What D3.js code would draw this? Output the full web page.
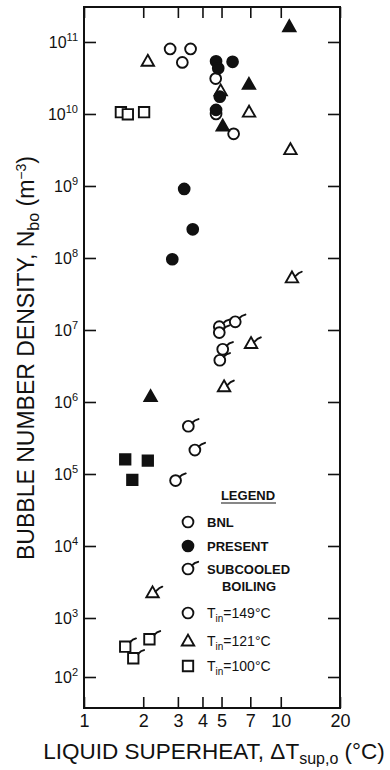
<!DOCTYPE html>
<html>
<head>
<meta charset="utf-8">
<script src="https://cdn.jsdelivr.net/npm/d3@7"></script>
<style>
  body { margin: 0; background: #fff; }
  text { font-family: "Liberation Sans", Arial, Helvetica, sans-serif; fill: #111; }
</style>
</head>
<body>
<svg id="chart" width="390" height="770"></svg>
<script>
// values: [superheat (C), bubble number density (m^-3)]
var bnlCircle = [[2.74, 8.0e10], [3.48, 8.0e10], [3.16, 5.2e10], [4.67, 3.1e10], [4.69, 1.0e10], [5.76, 5.3e9]];
var bnlTriangle = [[2.11, 5.4e10], [4.95, 2.1e10], [6.9, 1.06e10], [11.2, 3.2e9]];
var bnlSquare = [[1.54, 1.06e10], [1.67, 9.9e9], [2.02, 1.06e10]];

var presentCircle = [[4.69, 5.4e10], [4.81, 4.3e10], [5.69, 5.3e10], [4.9, 1.74e10], [4.69, 1.14e10], [3.23, 9.1e8], [3.57, 2.5e8], [2.81, 9.6e7]];
var presentTriangle = [[11.05, 1.63e11], [6.89, 2.58e10], [5.07, 6.8e9], [2.18, 1.19e6]];
var presentSquare = [[1.62, 1.6e5], [2.11, 1.53e5], [1.76, 8.3e4]];

var subCircle = [[5.87, 1.3e7], [4.87, 1.11e7], [4.87, 9.2e6], [5.07, 5.4e6], [4.9, 3.8e6], [3.39, 4.6e5], [3.66, 2.15e5], [2.92, 8.1e4]];
var subTriangle = [[11.4, 5.3e7], [7.06, 6.5e6], [5.15, 1.63e6], [2.23, 2.24e3]];
var subSquare = [[1.62, 327], [1.78, 208], [2.15, 436]];

var xTicks = [1, 2, 3, 4, 5, 7, 10, 20];
var yTicks = [1e2, 1e3, 1e4, 1e5, 1e6, 1e7, 1e8, 1e9, 1e10, 1e11];

var legendItems = [
    {shape: "circle", filled: false, tail: false, label: "BNL"},
    {shape: "circle", filled: true, tail: false, label: "PRESENT"},
    {shape: "circle", filled: false, tail: true, label: "SUBCOOLED", label2: "BOILING"},
    {shape: "circle", filled: false, tail: false, label: "T", sub: "in", rest: "=149°C"},
    {shape: "triangle", filled: false, tail: false, label: "T", sub: "in", rest: "=121°C"},
    {shape: "square", filled: false, tail: false, label: "T", sub: "in", rest: "=100°C"}
];

var svg = d3.select("#chart");
var plotLeft = 84, plotRight = 340, plotTop = 7, plotBottom = 708;

var x = d3.scaleLog().domain([1, 20]).range([plotLeft, plotRight]);
// the scanned figure has a shorter lowest decade, so the scale is piecewise
var y = d3.scaleLog().domain([30.4, 100, 1000, 3.06e11]).range([plotBottom, 677, 618, plotTop]);

var shapes = {
    circle: "M5.4,0A5.4,5.4 0 1,1 -5.4,0A5.4,5.4 0 1,1 5.4,0Z",
    triangle: "M0,-6.4L6.2,4.5L-6.2,4.5Z",
    square: "M-5.2,-5.2H5.2V5.2H-5.2Z"
};
var tails = {
    circle: "M3.9,-3.6L6.6,-5.8L10.2,-7.2",
    triangle: "M2.9,-1.2L6.6,-4.6L9.8,-6.1",
    square: "M4.8,-4.4L7.7,-7L10.8,-8.2"
};

function drawMarker(g, shape, filled, tail) {
    g.append("path")
        .attr("d", shapes[shape])
        .attr("fill", filled ? "#111" : "#fff")
        .attr("stroke", "#111")
        .attr("stroke-width", 1.9);
    if (tail) {
        g.append("path")
            .attr("d", tails[shape])
            .attr("fill", "none")
            .attr("stroke", "#111")
            .attr("stroke-width", 1.9)
            .attr("stroke-linecap", "round");
    }
}

// axes
var xAxis = svg.append("g")
    .attr("transform", "translate(0," + plotBottom + ")")
    .call(d3.axisBottom(x).tickValues(xTicks).tickSize(-11).tickPadding(6)
        .tickFormat(function(d) { return d; }));
xAxis.selectAll("text").attr("font-size", 18);

svg.append("g")
    .attr("transform", "translate(0," + plotTop + ")")
    .call(d3.axisTop(x).tickValues(xTicks).tickSize(-11).tickFormat(""));

var yAxis = svg.append("g")
    .attr("transform", "translate(" + plotLeft + ",0)")
    .call(d3.axisLeft(y).tickValues(yTicks).tickSize(-12).tickPadding(7)
        .tickFormat(function() { return ""; }));
yAxis.selectAll(".tick text").each(function(d) {
    var t = d3.select(this).attr("font-size", 16).text("10");
    t.append("tspan")
        .attr("dy", "-0.6em")
        .attr("font-size", 11)
        .text(Math.round(Math.log10(d)));
});
yAxis.selectAll(".tick text").attr("text-anchor", "start")
    .attr("x", function() { return -this.getComputedTextLength() - 6; });

svg.append("g")
    .attr("transform", "translate(" + plotRight + ",0)")
    .call(d3.axisRight(y).tickValues(yTicks).tickSize(-12).tickFormat(""));

svg.selectAll(".domain").remove();
svg.selectAll(".tick line").attr("stroke", "#111").attr("stroke-width", 1.6);

svg.append("rect")
    .attr("x", plotLeft).attr("y", plotTop)
    .attr("width", plotRight - plotLeft).attr("height", plotBottom - plotTop)
    .attr("fill", "none")
    .attr("stroke", "#111")
    .attr("stroke-width", 2);

// points
var series = [
    {data: bnlCircle, shape: "circle", filled: false, tail: false},
    {data: bnlTriangle, shape: "triangle", filled: false, tail: false},
    {data: bnlSquare, shape: "square", filled: false, tail: false},
    {data: subCircle, shape: "circle", filled: false, tail: true},
    {data: subTriangle, shape: "triangle", filled: false, tail: true},
    {data: subSquare, shape: "square", filled: false, tail: true},
    {data: presentCircle, shape: "circle", filled: true, tail: false},
    {data: presentTriangle, shape: "triangle", filled: true, tail: false},
    {data: presentSquare, shape: "square", filled: true, tail: false}
];

series.forEach(function(s) {
    svg.append("g").selectAll("g")
        .data(s.data)
        .enter().append("g")
        .attr("transform", function(d) { return "translate(" + x(d[0]) + "," + y(d[1]) + ")"; })
        .each(function() { drawMarker(d3.select(this), s.shape, s.filled, s.tail); });
});

// legend
var legend = svg.append("g");
legend.append("text")
    .attr("x", 248).attr("y", 500)
    .attr("text-anchor", "middle")
    .attr("font-size", 13)
    .attr("font-weight", "bold")
    .text("LEGEND");
legend.append("line")
    .attr("x1", 221).attr("x2", 276)
    .attr("y1", 503).attr("y2", 503)
    .attr("stroke", "#111").attr("stroke-width", 1.2);

var legendY = [522, 546, 569, 613, 641, 666];
legendItems.forEach(function(it, i) {
    var g = legend.append("g").attr("transform", "translate(188," + legendY[i] + ")");
    drawMarker(g, it.shape, it.filled, it.tail);
    var t = legend.append("text")
        .attr("x", 207).attr("y", legendY[i] + 5)
        .attr("font-size", it.sub ? 14 : 13)
        .attr("font-weight", it.sub ? "normal" : "bold")
        .text(it.label);
    if (it.sub) {
        t.append("tspan").attr("dy", 4).attr("font-size", 10).text(it.sub);
        t.append("tspan").attr("dy", -4).text(it.rest);
    }
    if (it.label2) {
        legend.append("text")
            .attr("x", 249).attr("y", legendY[i] + 22)
            .attr("text-anchor", "middle")
            .attr("font-size", 13)
            .attr("font-weight", "bold")
            .text(it.label2);
    }
});

// axis titles
var xt = svg.append("text")
    .attr("x", 214).attr("y", 759)
    .attr("text-anchor", "middle")
    .attr("font-size", 22.5)
    .text("LIQUID SUPERHEAT,  \u0394T");
xt.append("tspan").attr("dy", 5).attr("font-size", 16).text("sup,o");
xt.append("tspan").attr("dy", -5).text(" (°C)");

var yt = svg.append("text")
    .attr("transform", "translate(34,358) rotate(-90)")
    .attr("text-anchor", "middle")
    .attr("font-size", 23)
    .text("BUBBLE NUMBER DENSITY,  N");
yt.append("tspan").attr("dy", 5).attr("font-size", 16).text("bo");
yt.append("tspan").attr("dy", -5).text(" (m");
yt.append("tspan").attr("dy", -8).attr("font-size", 14).text("\u22123");
yt.append("tspan").attr("dy", 8).text(")");
</script>
</body>
</html>
